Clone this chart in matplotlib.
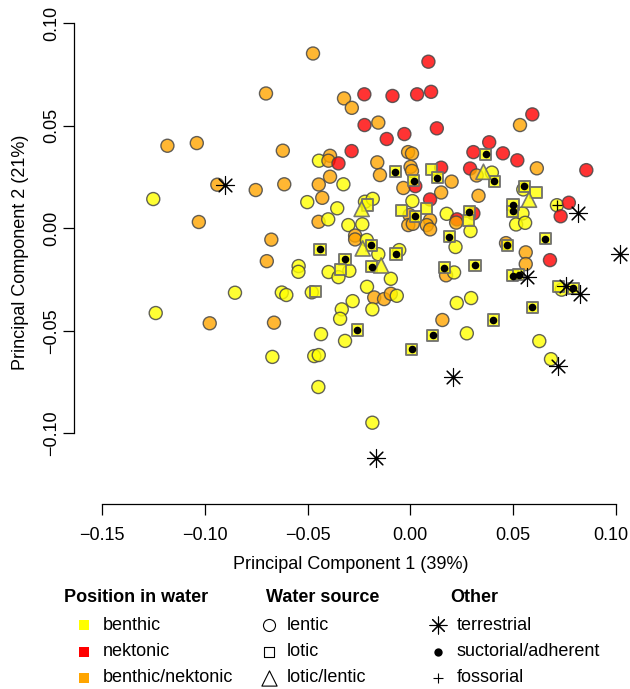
import matplotlib
matplotlib.use("Agg")
import matplotlib.pyplot as plt
import matplotlib.transforms as mtransforms
from matplotlib.colors import to_rgba

plt.rcParams["font.family"] = ["Liberation Sans", "DejaVu Sans"]
plt.rcParams["font.size"] = 13

# PCA scores
pc1 = [
    -0.0474, -0.0703, -0.0323, -0.0224, -0.0285, -0.0223, -0.1183, -0.1040, -0.0621, -0.0286,
    -0.0445, -0.0391, -0.0399, -0.0350, -0.0940, -0.0904, -0.0753, -0.0614, -0.1252, -0.0446,
    -0.0391, -0.0326, -0.0429, -0.0502, -0.0356, -0.1030, -0.0447, -0.0400, -0.0302, -0.0234,
    -0.0269, -0.0269, -0.0677, -0.0237, -0.0221, -0.0183, -0.0209, -0.0440, -0.0087, 0.0033,
    -0.0156, -0.0115, -0.0029, -0.0011, 0.0008, -0.0161, -0.0148, -0.0073, 0.0001, 0.0008,
    0.0016, -0.0034, 0.0024, 0.0088, 0.0101, 0.0129, 0.0534, 0.0594, 0.0384, 0.0307,
    0.0368, 0.0451, 0.0521, 0.0616, 0.0857, 0.0101, 0.0150, 0.0132, 0.0201, 0.0150,
    0.0291, 0.0323, 0.0356, 0.0397, 0.0409, 0.0332, 0.0555, 0.0550, 0.0612, 0.0578,
    0.0500, 0.0498, 0.0546, 0.0515, 0.0559, 0.0714, 0.0772, 0.0732, 0.0818, 0.0010,
    0.0096, -0.0045, 0.0079, 0.0025, -0.0004, -0.0010, 0.0012, 0.0096, 0.0080, 0.0096,
    0.0177, 0.0227, 0.0223, 0.0287, 0.0282, 0.0307, 0.0293, 0.0190, 0.0220, 0.0466,
    0.0473, 0.0658, 0.1021, -0.0190, -0.0156, -0.0054, -0.0070, -0.0189, -0.0142, -0.0095,
    -0.0211, -0.0176, -0.0128, -0.0095, -0.0066, -0.0185, 0.0166, 0.0174, 0.0213, 0.0315,
    0.0498, 0.0528, 0.0567, 0.0562, 0.0562, 0.0680, 0.0721, 0.0737, 0.0794, 0.0825,
    0.0758, 0.0226, 0.0296, 0.0594, 0.0156, 0.0404, 0.0275, 0.0109, 0.0628, 0.0685,
    0.0721, 0.0209, 0.0007, -0.0185, -0.0168, -0.0318, -0.0699, -0.0544, -0.0545, -0.0398,
    -0.0341, -0.0350, -0.0297, -0.0854, -0.0626, -0.0604, -0.0480, -0.0462, -0.1240, -0.0977,
    -0.0664, -0.0281, -0.0334, -0.0342, -0.0435, -0.0258, -0.0318, -0.0672, -0.0468, -0.0446,
    -0.0448, -0.0212, -0.0232,
]
pc2 = [
    0.0853, 0.0658, 0.0634, 0.0654, 0.0588, 0.0504, 0.0403, 0.0416, 0.0379, 0.0377,
    0.0330, 0.0354, 0.0330, 0.0317, 0.0213, 0.0213, 0.0187, 0.0215, 0.0143, 0.0214,
    0.0252, 0.0215, 0.0149, 0.0128, 0.0098, 0.0031, 0.0032, 0.0044, 0.0016, 0.0020,
    -0.0035, -0.0054, -0.0055, 0.0095, 0.0130, 0.0144, 0.0114, -0.0102, 0.0646, 0.0654,
    0.0516, 0.0436, 0.0460, 0.0372, 0.0365, 0.0322, 0.0260, 0.0276, 0.0300, 0.0280,
    0.0233, 0.0197, 0.0206, 0.0813, 0.0666, 0.0488, 0.0504, 0.0556, 0.0420, 0.0372,
    0.0361, 0.0366, 0.0332, 0.0293, 0.0284, 0.0289, 0.0296, 0.0247, 0.0228, 0.0175,
    0.0292, 0.0258, 0.0276, 0.0272, 0.0230, 0.0159, 0.0205, 0.0190, 0.0176, 0.0140,
    0.0115, 0.0083, 0.0073, 0.0019, 0.0027, 0.0113, 0.0125, 0.0059, 0.0077, 0.0133,
    0.0141, 0.0089, 0.0099, 0.0059, 0.0065, 0.0016, 0.0022, 0.0040, 0.0016, -0.0005,
    0.0071, 0.0044, 0.0028, 0.0081, 0.0039, 0.0073, -0.0013, -0.0041, -0.0091, -0.0072,
    -0.0083, -0.0050, -0.0123, -0.0083, -0.0126, -0.0106, -0.0125, -0.0187, -0.0181, -0.0246,
    -0.0285, -0.0337, -0.0345, -0.0319, -0.0329, -0.0395, -0.0191, -0.0229, -0.0215, -0.0179,
    -0.0231, -0.0226, -0.0236, -0.0117, -0.0174, -0.0155, -0.0283, -0.0299, -0.0293, -0.0320,
    -0.0279, -0.0364, -0.0340, -0.0386, -0.0447, -0.0447, -0.0512, -0.0522, -0.0550, -0.0638,
    -0.0670, -0.0724, -0.0589, -0.0948, -0.1122, -0.0151, -0.0160, -0.0184, -0.0212, -0.0213,
    -0.0202, -0.0238, -0.0207, -0.0314, -0.0313, -0.0325, -0.0312, -0.0307, -0.0413, -0.0463,
    -0.0460, -0.0355, -0.0395, -0.0441, -0.0516, -0.0496, -0.0549, -0.0627, -0.0623, -0.0618,
    -0.0774, -0.0057, -0.0098,
]
# position in water: b = benthic, n = nektonic, m = benthic/nektonic, - = none
position = (
    "m m m n m n m m m n "
    "b m m n m - m m b m "
    "m b m b b m m b b b "
    "m m m b b b b b n n "
    "m n n m m m m b m m "
    "b m n n n n m n n n "
    "b n n m n b n b m m "
    "n m b b b m b b b b "
    "b b b b b b n n - b "
    "n b b b m m m m m m "
    "b n m b b n b b b m "
    "b b - b b b b b b b "
    "b m m m b b b m b b "
    "b b - m m n b b b - "
    "- b b b m b b b b b "
    "- - b b - b m b b b "
    "b b b b b b b b b m "
    "m b b b b b b b b b "
    "b b b"
).split()
# water source: c = lentic, s = lotic, t = lotic/lentic, - = none
source = (
    "c c c c c c c c c c "
    "c c c c c - c c c c "
    "c c c c c c c c c c "
    "c c c t c c s s c c "
    "c c c c c c c s c c "
    "s c c c c c c c c c "
    "s c c c c s c s c c "
    "c c t c s c s c s t "
    "s s c c c c c c - c "
    "c s s s c c c c c c "
    "c c c s s c c s c c "
    "s s - s c c s s t c "
    "c c c c c c s c c s "
    "s s - c c c s c s - "
    "- c c s c s c s c c "
    "- - s c - s c c c c "
    "s c c c c c c s c c "
    "c c c c c s c c c c "
    "c c t"
).split()
# other traits: x = terrestrial, d = suctorial/adherent, p = fossorial, . = none
other = (
    ". . . . . . . . . . "
    ". . . . . x . . . . "
    ". . . . . . . . . . "
    ". . . . . . . d . . "
    ". . . . . . . d . . "
    "d . . . . . . . . . "
    "d . . . . . . d . . "
    ". . . . d . d . . . "
    "d d . . . p . . x . "
    ". . . d . . . . . . "
    ". . . d . . . d . . "
    "d d x d . . d d . . "
    ". . . . . . d . . d "
    "d d x . . . . . d x "
    "x . . d . d . d . . "
    "x x d . x d . . . . "
    ". . . . . . . . . . "
    ". . . . . d . . . . "
    ". . ."
).split()

fills = {"b": "#FFFF00", "n": "#FF0000", "m": "#FFA500"}
shapes = {"c": "o", "s": "s", "t": "^"}
sizes = {"c": 88, "s": 64, "t": 118}
edges = {"c": (0.28, 0.28, 0.28, 0.85), "s": (0.42, 0.42, 0.42, 0.9), "t": (0.42, 0.42, 0.42, 0.9)}
widths = {"c": 1.0, "s": 1.4, "t": 1.2}

fig = plt.figure(figsize=(6.3, 6.89), dpi=100)
ax = fig.add_axes([74 / 630, (689 - 504.3) / 689, (628 - 74) / 630, 504.3 / 689])

for src in ["c", "s", "t"]:
    idx = [i for i in range(len(pc1)) if source[i] == src]
    ax.scatter([pc1[i] for i in idx], [pc2[i] for i in idx],
               s=sizes[src], marker=shapes[src],
               c=[to_rgba(fills[position[i]], 0.8) for i in idx],
               edgecolors=[edges[src]], linewidths=widths[src], zorder=2)

idx = [i for i in range(len(pc1)) if other[i] == "d"]
ax.scatter([pc1[i] for i in idx], [pc2[i] for i in idx], s=30, marker="o",
           color="black", linewidths=0, zorder=3)
idx = [i for i in range(len(pc1)) if other[i] == "p"]
ax.scatter([pc1[i] for i in idx], [pc2[i] for i in idx], s=55, marker="+",
           color="black", linewidths=0.9, zorder=3)
idx = [i for i in range(len(pc1)) if other[i] == "x"]
ax.scatter([pc1[i] for i in idx], [pc2[i] for i in idx], s=170, marker=(8, 2, 0),
           color="black", linewidths=0.8, zorder=3)

ax.set_xlim(-0.1638, 0.1060)
ax.set_ylim(-0.1346, 0.1114)
for side in ["top", "right"]:
    ax.spines[side].set_visible(False)
ax.spines["left"].set_bounds(-0.10, 0.10)
ax.spines["bottom"].set_bounds(-0.15, 0.10)
ax.spines["left"].set_linewidth(0.9)
ax.spines["bottom"].set_linewidth(0.9)

xt = [-0.15, -0.10, -0.05, 0.00, 0.05, 0.10]
yt = [-0.10, -0.05, 0.00, 0.05, 0.10]
ax.set_xticks(xt)
ax.set_xticklabels([f"{v:.2f}".replace("-", "\u2212") for v in xt])
ax.set_yticks(yt)
ax.set_yticklabels([f"{v:.2f}".replace("-", "\u2212") for v in yt], rotation=90, va="center")
ax.tick_params(axis="both", direction="out", length=8, width=0.9, labelsize=13)
ax.tick_params(axis="x", pad=8)
ax.tick_params(axis="y", pad=2)
ax.set_xlabel("Principal Component 1 (39%)", fontsize=13, labelpad=9)
ax.set_ylabel("Principal Component 2 (21%)", fontsize=13, labelpad=10)

# nudge the last x tick label so it stays inside the figure
last = ax.get_xticklabels()[-1]
last.set_transform(last.get_transform()
                   + mtransforms.ScaledTranslation(-5 / 100, 0, fig.dpi_scale_trans))

# legend block under the plot, laid out in figure pixels
lg = fig.add_axes([0, 0, 1, 1], zorder=-1)
lg.set_xlim(0, 630)
lg.set_ylim(689, 0)
lg.axis("off")

rows = [625, 651.5, 677.5]
lg.text(63.5, 598, "Position in water", fontweight="bold", va="center", ha="left", fontsize=13)
lg.text(266, 598, "Water source", fontweight="bold", va="center", ha="left", fontsize=13)
lg.text(450.5, 598, "Other", fontweight="bold", va="center", ha="left", fontsize=13)

pos_labels = ["benthic", "nektonic", "benthic/nektonic"]
for yy, key, lab in zip(rows, ["b", "n", "m"], pos_labels):
    lg.scatter([84], [yy], marker="s", s=62, color=fills[key], linewidths=0)
    lg.text(102.5, yy, lab, va="center", ha="left", fontsize=13)

src_labels = ["lentic", "lotic", "lotic/lentic"]
src_marks = [("o", 75), ("s", 62), ("^", 120)]
for yy, (mk, sz), lab in zip(rows, src_marks, src_labels):
    lg.scatter([269], [yy], marker=mk, s=sz, facecolors="white", edgecolors="black", linewidths=0.8)
    lg.text(286.3, yy, lab, va="center", ha="left", fontsize=13)

oth_labels = ["terrestrial", "suctorial/adherent", "fossorial"]
oth_marks = [((8, 2, 0), 150, 0.8), ("o", 36, 0), ("+", 60, 0.8)]
for yy, (mk, sz, lw), lab in zip(rows, oth_marks, oth_labels):
    lg.scatter([438], [yy], marker=mk, s=sz, color="black", linewidths=lw)
    lg.text(456.6, yy, lab, va="center", ha="left", fontsize=13)

fig.savefig("out.png", dpi=100)
